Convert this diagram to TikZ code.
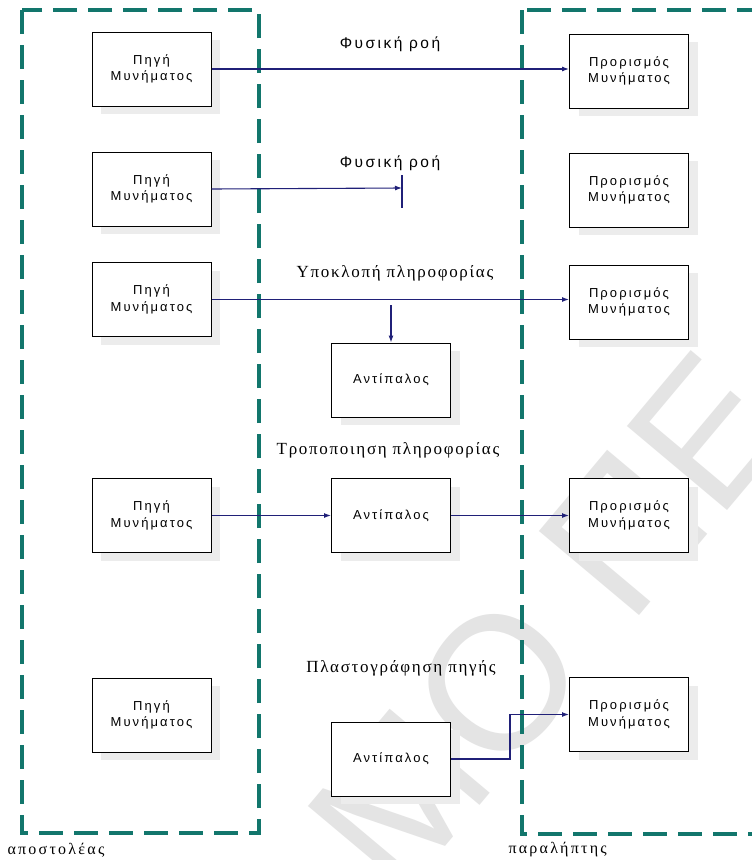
\documentclass[tikz,border=0pt]{standalone}
\usepackage{fontspec}
\setmainfont{Liberation Sans}
\newfontfamily\captionserif{Liberation Serif}
\newfontfamily\markfont{Liberation Sans}
\usetikzlibrary{arrows.meta,shadows}

\definecolor{frameteal}{RGB}{18,118,108}
\definecolor{flowblue}{RGB}{32,32,120}
\definecolor{shadowgray}{RGB}{236,236,236}
\definecolor{markgray}{RGB}{228,228,228}

\begin{document}
\begin{tikzpicture}[x=1pt,y=-1pt,
  box/.style={draw=black, line width=1pt, fill=white,
    minimum width=119pt, minimum height=74pt, inner sep=0pt, align=center,
    font=\fontsize{13}{16.5}\selectfont\addfontfeatures{LetterSpace=16},
    drop shadow={shadow xshift=9pt, shadow yshift=-8pt, fill=shadowgray, opacity=1}},
  flow/.style={draw=flowblue, line width=1.1pt, -{Latex[length=7pt,width=5pt]}},
  plainflow/.style={draw=flowblue, line width=1.1pt},
  frame/.style={draw=frameteal, line width=4pt, dash pattern=on 24pt off 11pt},
  sanslabel/.style={font=\fontsize{15.5}{18}\selectfont\addfontfeatures{LetterSpace=16}},
  seriflabel/.style={font=\captionserif\fontsize{17}{19}\selectfont\addfontfeatures{LetterSpace=10}},
  sidelabel/.style={font=\captionserif\fontsize{16}{18}\selectfont\addfontfeatures{LetterSpace=14}, anchor=west},
  watermark/.style={text=markgray, font=\markfont\fontsize{190}{190}\selectfont, rotate=50}
]
\useasboundingbox (0,0) rectangle (752,860);
\clip (0,0) rectangle (752,860);
\fill[white] (0,0) rectangle (752,860);

% background watermark
\node[watermark] (mark) at (549,622) {ΜΟ ΠΕ};

% sender and receiver areas
\draw[frame] (22,10) rectangle (259,833);
\draw[frame] (522,10) rectangle (780,834);
\node[sidelabel] (sender) at (4,850) {αποστολέας};
\node[sidelabel] (receiver) at (505,850) {παραλήπτης};

% message sources
\node[box] (s1) at (151.5,69) {Πηγή\\Μυνήματος};
\node[box] (s2) at (151.5,189) {Πηγή\\Μυνήματος};
\node[box] (s3) at (151.5,299.5) {Πηγή\\Μυνήματος};
\node[box] (s4) at (151.5,515.5) {Πηγή\\Μυνήματος};
\node[box] (s5) at (151.5,715) {Πηγή\\Μυνήματος};

% message destinations
\node[box] (d1) at (629,71) {Προρισμός\\Μυνήματος};
\node[box] (d2) at (629,190) {Προρισμός\\Μυνήματος};
\node[box] (d3) at (629,302) {Προρισμός\\Μυνήματος};
\node[box] (d4) at (629,515.5) {Προρισμός\\Μυνήματος};
\node[box] (d5) at (629,714.5) {Προρισμός\\Μυνήματος};

% adversaries
\node[box] (a1) at (391,380) {Αντίπαλος};
\node[box] (a2) at (391,515.5) {Αντίπαλος};
\node[box] (a3) at (391,759) {Αντίπαλος};

% flow captions
\node[sanslabel] (t1) at (390,44) {Φυσική ροή};
\node[sanslabel] (t2) at (390,163) {Φυσική ροή};
\node[seriflabel] (t3) at (395,273) {Υποκλοπή πληροφορίας};
\node[seriflabel] (t4) at (388,450) {Τροποποιηση πληροφορίας};
\node[seriflabel] (t5) at (401,668) {Πλαστογράφηση πηγής};

% normal flow
\draw[flow] (s1.east) -- (s1.east -| d1.west);

% interruption
\coordinate (stop) at (402,188);
\coordinate (stoptop) at (402,175);
\coordinate (stopbot) at (402,208);
\draw[flow] (s2.east) -- (stop);
\draw[plainflow] (stoptop) -- (stopbot);

% interception
\coordinate (tap) at (391,305);
\draw[flow] (s3.east) -- (s3.east -| d3.west);
\draw[flow] (tap) -- (a1.north);

% modification
\draw[flow] (s4.east) -- (a2.west);
\draw[flow] (a2.east) -- (a2.east -| d4.west);

% fabrication
\coordinate (bend) at (510,715);
\draw[flow] (a3.east) -| (bend |- d5.west) -- (d5.west);
\end{tikzpicture}
\end{document}
